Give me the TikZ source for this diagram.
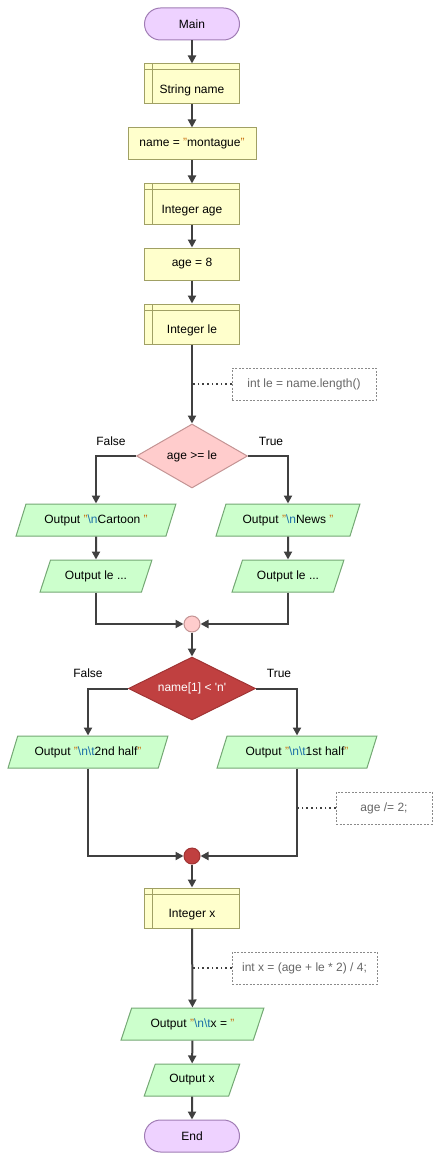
\documentclass[tikz,border=0pt]{standalone}
\usepackage{fontspec}
\setmainfont{Liberation Sans}
\usetikzlibrary{arrows.meta,shapes.geometric}
\definecolor{termfill}{HTML}{EED2FF}
\definecolor{termdraw}{HTML}{A07CB4}
\definecolor{procfill}{HTML}{FFFFCC}
\definecolor{procdraw}{HTML}{A0A064}
\definecolor{iofill}{HTML}{CCFFCC}
\definecolor{iodraw}{HTML}{74A874}
\definecolor{condfill}{HTML}{FFCCCC}
\definecolor{conddraw}{HTML}{C49494}
\definecolor{hotfill}{HTML}{C04040}
\definecolor{hotdraw}{HTML}{A03434}
\definecolor{flow}{HTML}{404040}
\definecolor{notetext}{HTML}{666666}
\definecolor{notedraw}{HTML}{8A8A8A}
\definecolor{strcol}{HTML}{C87010}
\definecolor{esccol}{HTML}{1C70A8}
\newcommand{\qq}{\textcolor{strcol}{"}}
\newcommand{\esc}[1]{\textcolor{esccol}{\textbackslash #1}}
\tikzset{
 base/.style={font=\fontsize{12}{14}\selectfont, inner sep=2pt, line width=1pt},
 term/.style={base, draw=termdraw, fill=termfill, rounded corners=16pt, minimum width=95, minimum height=32},
 proc/.style={base, draw=procdraw, fill=procfill, minimum width=95, minimum height=32},
 decl/.style={proc, minimum height=40, text height=20pt, text depth=1.4pt,
  path picture={\draw[procdraw, line width=1pt] ([xshift=8pt]path picture bounding box.north west) -- ([xshift=8pt]path picture bounding box.south west);
   \draw[procdraw, line width=1pt] ([yshift=-6pt]path picture bounding box.north west) -- ([yshift=-6pt]path picture bounding box.north east);}},
 io/.style={base, trapezium, trapezium left angle=63.4, trapezium right angle=116.6, trapezium stretches=true, draw=iodraw, fill=iofill, minimum height=32},
 cond/.style={base, diamond, aspect=2.2, inner sep=0pt, draw=conddraw, fill=condfill, minimum width=111, minimum height=64},
 note/.style={base, draw=notedraw, dash pattern=on 2pt off 1.5pt, text=notetext, minimum height=32},
 jn/.style={circle, line width=1pt, minimum size=16, inner sep=0pt},
 lbl/.style={base},
 flowline/.style={draw=flow, line width=2pt, -{Triangle[length=8pt,width=8pt]}},
 dotline/.style={draw=flow, line width=1.6pt, dash pattern=on 1.6pt off 3pt}
}
\begin{document}
\begin{tikzpicture}[x=1pt,y=-1pt]
\useasboundingbox (0,0) rectangle (441,1161);
\node[term] (main) at (192,24) {Main};
\node[decl] (strName) at (192,84) {String name};
\node[proc, minimum width=128] (nameSet) at (192,144) {name = \qq montague\qq};
\node[decl] (ageDecl) at (192,204) {Integer age};
\node[proc] (ageSet) at (192,264) {age = 8};
\node[decl] (leDecl) at (192,324) {Integer le};
\node[note, minimum width=144] (cmtLe) at (304,384) {int le = name.length()};
\node[cond] (cond1) at (192,456) {age >= le};
\node[lbl] (lblF1) at (111,441) {False};
\node[lbl] (lblT1) at (271,441) {True};
\node[io, minimum width=160] (outCart) at (96,520) {Output \qq\esc{n}Cartoon \qq};
\node[io, minimum width=144] (outNews) at (288,520) {Output \qq\esc{n}News \qq};
\node[io, minimum width=112] (outLeF) at (96,576) {Output le ...};
\node[io, minimum width=112] (outLeT) at (288,576) {Output le ...};
\node[jn, draw=conddraw, fill=condfill] (join1) at (192,624) {};
\node[cond, draw=hotdraw, fill=hotfill, text=white, minimum width=127, minimum height=63] (cond2) at (192,688.5) {name[1] < \textquotesingle n\textquotesingle};
\node[lbl] (lblF2) at (88,673) {False};
\node[lbl] (lblT2) at (279,673) {True};
\node[io, minimum width=160] (outHalf2) at (88,752) {Output \qq\esc{n}\esc{t}2nd half\qq};
\node[io, minimum width=160] (outHalf1) at (297,752) {Output \qq\esc{n}\esc{t}1st half\qq};
\node[note, minimum width=96] (cmtAge) at (384,808) {age /= 2;};
\node[jn, draw=hotdraw, fill=hotfill] (join2) at (192,856) {};
\node[decl] (xDecl) at (192,908) {Integer x};
\node[note, minimum width=145] (cmtX) at (304.5,968) {int x = (age + le * 2) / 4;};
\node[io, minimum width=143] (outXs) at (192.5,1024) {Output \qq\esc{n}\esc{t}x = \qq};
\node[io, minimum width=96] (outX) at (192,1080) {Output x};
\node[term] (theEnd) at (192,1136) {End};
\draw[dotline] (cmtLe) -- (cmtLe -| leDecl);
\draw[dotline] (cmtAge) -- (cmtAge -| outHalf1);
\draw[dotline] (cmtX) -- (cmtX -| xDecl);
\draw[flowline] (main) -- (strName);
\draw[flowline] (strName) -- (nameSet);
\draw[flowline] (nameSet) -- (ageDecl);
\draw[flowline] (ageDecl) -- (ageSet);
\draw[flowline] (ageSet) -- (leDecl);
\draw[flowline] (leDecl) -- (cond1);
\draw[flowline] (cond1.west) -| (outCart);
\draw[flowline] (cond1.east) -| (outNews);
\draw[flowline] (outCart) -- (outLeF);
\draw[flowline] (outNews) -- (outLeT);
\draw[flowline] (outLeF) |- (join1);
\draw[flowline] (outLeT) |- (join1);
\draw[flowline] (join1) -- (cond2);
\draw[flowline] (cond2.west) -| (outHalf2);
\draw[flowline] (cond2.east) -| (outHalf1);
\draw[flowline] (outHalf2) |- (join2);
\draw[flowline] (outHalf1) |- (join2);
\draw[flowline] (join2) -- (xDecl);
\draw[flowline] (xDecl) -- (outXs);
\draw[flowline] (outXs) -- (outX);
\draw[flowline] (outX) -- (theEnd);
\end{tikzpicture}
\end{document}
